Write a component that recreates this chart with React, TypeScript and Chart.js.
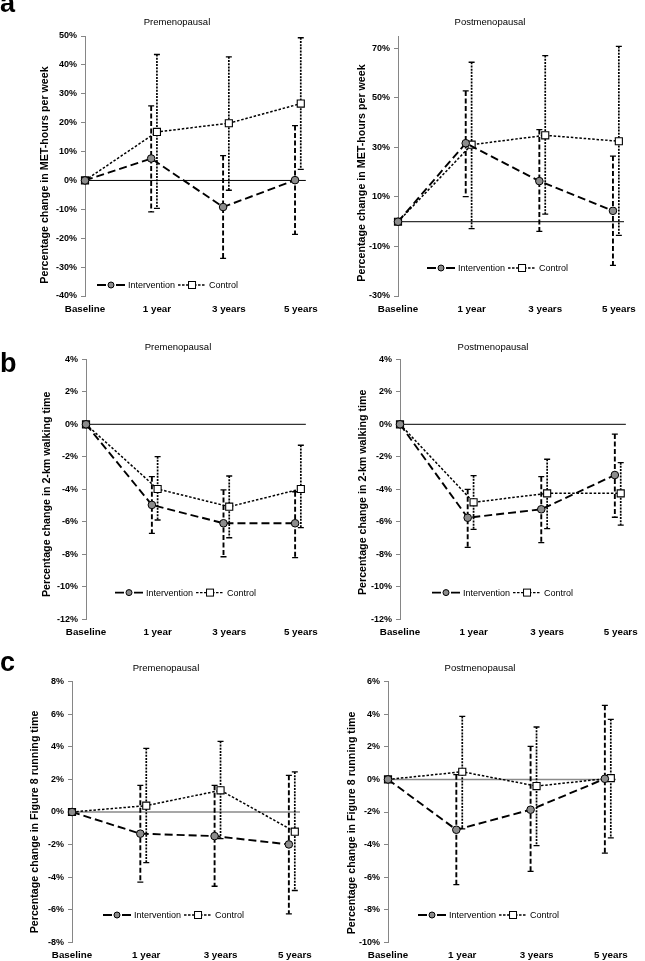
import React, { useEffect, useRef } from 'react';
import { Chart, registerables } from 'chart.js';

Chart.register(...registerables);

// ---------------- DATA ----------------
const CATEGORIES = ['Baseline', '1 year', '3 years', '5 years'];
const SERIES_NAMES = ['Intervention', 'Control'];
const PANEL_LETTERS = ['a', 'b', 'c'];
const PANEL_TITLES = ['Premenopausal', 'Postmenopausal'];
const Y_TITLES = [
  'Percentage change in MET-hours per week',
  'Percentage change in 2-km walking time',
  'Percentage change in Figure 8 running time',
];

// a) MET-hours per week
const A_PRE_TICKS = [-40, -30, -20, -10, 0, 10, 20, 30, 40, 50];
const A_PRE_INT = [0, 7.6, -9.2, 0.1];
const A_PRE_INT_LO = [0, -10.9, -27.0, -18.7];
const A_PRE_INT_HI = [0, 25.8, 8.6, 19.0];
const A_PRE_CTL = [0, 16.8, 19.8, 26.6];
const A_PRE_CTL_LO = [0, -9.7, -3.4, 3.8];
const A_PRE_CTL_HI = [0, 43.6, 42.8, 49.4];

const A_POST_TICKS = [-30, -10, 10, 30, 50, 70];
const A_POST_INT = [0, 31.7, 16.4, 4.4];
const A_POST_INT_LO = [0, 10.1, -3.9, -17.6];
const A_POST_INT_HI = [0, 52.8, 37.2, 26.5];
const A_POST_CTL = [0, 31.1, 34.9, 32.5];
const A_POST_CTL_LO = [0, -2.8, 3.1, -5.5];
const A_POST_CTL_HI = [0, 64.4, 67.1, 70.8];

// b) 2-km walking time
const B_TICKS = [-12, -10, -8, -6, -4, -2, 0, 2, 4];
const B_PRE_INT = [0, -4.96, -6.09, -6.09];
const B_PRE_INT_LO = [0, -6.71, -8.15, -8.21];
const B_PRE_INT_HI = [0, -3.22, -4.04, -4.15];
const B_PRE_CTL = [0, -3.98, -5.07, -3.98];
const B_PRE_CTL_LO = [0, -5.89, -6.98, -6.36];
const B_PRE_CTL_HI = [0, -1.99, -3.18, -1.29];

const B_POST_INT = [0, -5.75, -5.23, -3.12];
const B_POST_INT_LO = [0, -7.57, -7.28, -5.72];
const B_POST_INT_HI = [0, -4.0, -3.22, -0.6];
const B_POST_CTL = [0, -4.8, -4.25, -4.25];
const B_POST_CTL_LO = [0, -6.46, -6.42, -6.2];
const B_POST_CTL_HI = [0, -3.16, -2.15, -2.36];

// c) Figure 8 running time
const C_PRE_TICKS = [-8, -6, -4, -2, 0, 2, 4, 6, 8];
const C_PRE_INT = [0, -1.33, -1.48, -1.99];
const C_PRE_INT_LO = [0, -4.3, -4.56, -6.25];
const C_PRE_INT_HI = [0, 1.64, 1.64, 2.25];
const C_PRE_CTL = [0, 0.39, 1.33, -1.21];
const C_PRE_CTL_LO = [0, -3.11, -1.64, -4.82];
const C_PRE_CTL_HI = [0, 3.91, 4.34, 2.46];

const C_POST_TICKS = [-10, -8, -6, -4, -2, 0, 2, 4, 6];
const C_POST_INT = [0, -3.09, -1.86, 0.04];
const C_POST_INT_LO = [0, -6.46, -5.65, -4.53];
const C_POST_INT_HI = [0, 0.29, 2.03, 4.55];
const C_POST_CTL = [0, 0.47, -0.41, 0.08];
const C_POST_CTL_LO = [0, -3.03, -4.06, -3.59];
const C_POST_CTL_HI = [0, 3.87, 3.22, 3.69];

// ---------------- STYLE / LAYOUT ----------------
const FONT = "'Liberation Sans', Arial, Helvetica, sans-serif";
const X_MAX = 3.07;
const INT_OFFSET = -0.08;
const AXIS_GREY = '#868686';
const Y_TITLE_SIZE = 10.7;

type Rect = { x: number; y: number; w: number; h: number };
type Area = { l: number; r: number; t: number; b: number };
type Panel = {
  canvas: Rect;
  area: Area;
  yMin: number;
  yMax: number;
  yTicks: number[];
  yTitle: string;
  yTitleX: number;
  yTitleShift: number;
  int: number[]; intLo: number[]; intHi: number[];
  ctl: number[]; ctlLo: number[]; ctlHi: number[];
  legend: { dx: number; dy: number };
  zeroColor: string;
  zeroWidth: number;
};

const PANELS: Panel[] = [
  {
    canvas: { x: 0, y: 26, w: 325, h: 300 }, area: { l: 85, r: 310, t: 36, b: 296 },
    yMin: -40, yMax: 50, yTicks: A_PRE_TICKS, yTitle: Y_TITLES[0], yTitleX: 45, yTitleShift: 9,
    int: A_PRE_INT, intLo: A_PRE_INT_LO, intHi: A_PRE_INT_HI,
    ctl: A_PRE_CTL, ctlLo: A_PRE_CTL_LO, ctlHi: A_PRE_CTL_HI,
    legend: { dx: 12, dy: -11 }, zeroColor: '#000', zeroWidth: 1,
  },
  {
    canvas: { x: 325, y: 26, w: 320, h: 300 }, area: { l: 398, r: 624, t: 36, b: 296 },
    yMin: -30, yMax: 75, yTicks: A_POST_TICKS, yTitle: Y_TITLES[0], yTitleX: 362, yTitleShift: 7,
    int: A_POST_INT, intLo: A_POST_INT_LO, intHi: A_POST_INT_HI,
    ctl: A_POST_CTL, ctlLo: A_POST_CTL_LO, ctlHi: A_POST_CTL_HI,
    legend: { dx: 29, dy: -28 }, zeroColor: '#000', zeroWidth: 1,
  },
  {
    canvas: { x: 0, y: 349, w: 325, h: 291 }, area: { l: 86, r: 313, t: 359.3, b: 619.3 },
    yMin: -12, yMax: 4, yTicks: B_TICKS, yTitle: Y_TITLES[1], yTitleX: 47, yTitleShift: 5,
    int: B_PRE_INT, intLo: B_PRE_INT_LO, intHi: B_PRE_INT_HI,
    ctl: B_PRE_CTL, ctlLo: B_PRE_CTL_LO, ctlHi: B_PRE_CTL_HI,
    legend: { dx: 29, dy: -26.7 }, zeroColor: '#000', zeroWidth: 1,
  },
  {
    canvas: { x: 325, y: 349, w: 320, h: 291 }, area: { l: 400, r: 628, t: 359.3, b: 619.3 },
    yMin: -12, yMax: 4, yTicks: B_TICKS, yTitle: Y_TITLES[1], yTitleX: 363, yTitleShift: 3,
    int: B_POST_INT, intLo: B_POST_INT_LO, intHi: B_POST_INT_HI,
    ctl: B_POST_CTL, ctlLo: B_POST_CTL_LO, ctlHi: B_POST_CTL_HI,
    legend: { dx: 32, dy: -26.7 }, zeroColor: '#000', zeroWidth: 1,
  },
  {
    canvas: { x: 0, y: 671, w: 320, h: 290 }, area: { l: 72, r: 300, t: 681.7, b: 942.3 },
    yMin: -8, yMax: 8, yTicks: C_PRE_TICKS, yTitle: Y_TITLES[2], yTitleX: 35, yTitleShift: 10,
    int: C_PRE_INT, intLo: C_PRE_INT_LO, intHi: C_PRE_INT_HI,
    ctl: C_PRE_CTL, ctlLo: C_PRE_CTL_LO, ctlHi: C_PRE_CTL_HI,
    legend: { dx: 31, dy: -27.3 }, zeroColor: '#8a8a8a', zeroWidth: 1.6,
  },
  {
    canvas: { x: 320, y: 671, w: 325, h: 290 }, area: { l: 388, r: 616, t: 681.7, b: 942.3 },
    yMin: -10, yMax: 6, yTicks: C_POST_TICKS, yTitle: Y_TITLES[2], yTitleX: 352, yTitleShift: 11,
    int: C_POST_INT, intLo: C_POST_INT_LO, intHi: C_POST_INT_HI,
    ctl: C_POST_CTL, ctlLo: C_POST_CTL_LO, ctlHi: C_POST_CTL_HI,
    legend: { dx: 30, dy: -27.3 }, zeroColor: '#8a8a8a', zeroWidth: 1.6,
  },
];

const TITLE_POS = [
  { cx: 177, cy: 22 }, { cx: 490, cy: 22 },
  { cx: 178, cy: 347 }, { cx: 493, cy: 347 },
  { cx: 166, cy: 668 }, { cx: 480, cy: 668 },
];
const LETTER_TOP = [-10, 350, 649];

const INT_STYLE = { lineDash: [8, 4], lineWidth: 1.9, errDash: [5, 2.5], errWidth: 1.9, fill: '#8c8c8c' };
const CTL_STYLE = { lineDash: [2.5, 1.8], lineWidth: 1.5, errDash: [2, 1.2], errWidth: 1.7, fill: '#ffffff' };

function makeExtras(p: Panel) {
  return {
    id: 'panelExtras',
    beforeDatasetsDraw(chart: any) {
      const { ctx, chartArea, scales } = chart;
      const xs = scales.x;
      const ys = scales.y;
      // zero reference line
      const y0 = ys.getPixelForValue(0);
      ctx.save();
      ctx.strokeStyle = p.zeroColor;
      ctx.lineWidth = p.zeroWidth;
      ctx.beginPath();
      ctx.moveTo(chartArea.left, y0);
      ctx.lineTo(chartArea.right, y0);
      ctx.stroke();
      ctx.restore();
      // error bars
      const sets = [
        { lo: p.intLo, hi: p.intHi, st: INT_STYLE, ds: 0 },
        { lo: p.ctlLo, hi: p.ctlHi, st: CTL_STYLE, ds: 1 },
      ];
      sets.forEach((s) => {
        const data = chart.data.datasets[s.ds].data as { x: number; y: number }[];
        data.forEach((pt, i) => {
          if (s.lo[i] === s.hi[i]) return;
          const x = xs.getPixelForValue(pt.x);
          const yl = ys.getPixelForValue(s.lo[i]);
          const yh = ys.getPixelForValue(s.hi[i]);
          ctx.save();
          ctx.strokeStyle = '#000';
          ctx.lineWidth = s.st.errWidth;
          ctx.setLineDash(s.st.errDash);
          ctx.beginPath();
          ctx.moveTo(x, yh);
          ctx.lineTo(x, yl);
          ctx.stroke();
          ctx.setLineDash([]);
          ctx.lineWidth = 1.3;
          ctx.beginPath();
          ctx.moveTo(x - 3, yh);
          ctx.lineTo(x + 3, yh);
          ctx.moveTo(x - 3, yl);
          ctx.lineTo(x + 3, yl);
          ctx.stroke();
          ctx.restore();
        });
      });
    },
    afterDraw(chart: any) {
      const { ctx, chartArea } = chart;
      // y-axis title
      ctx.save();
      ctx.font = `bold ${Y_TITLE_SIZE}px ${FONT}`;
      ctx.fillStyle = '#000';
      ctx.textAlign = 'center';
      ctx.textBaseline = 'middle';
      ctx.translate(p.yTitleX - p.canvas.x, (chartArea.top + chartArea.bottom) / 2 + p.yTitleShift);
      ctx.rotate(-Math.PI / 2);
      ctx.fillText(p.yTitle, 0, 0);
      ctx.restore();

      // legend
      const x0 = chartArea.left + p.legend.dx;
      const y = chartArea.bottom + p.legend.dy;
      ctx.save();
      ctx.font = `9px ${FONT}`;
      ctx.textBaseline = 'middle';
      ctx.textAlign = 'left';
      ctx.fillStyle = '#000';
      ctx.strokeStyle = '#000';
      // Intervention
      ctx.lineWidth = INT_STYLE.lineWidth;
      ctx.beginPath();
      ctx.moveTo(x0, y); ctx.lineTo(x0 + 9, y);
      ctx.moveTo(x0 + 19, y); ctx.lineTo(x0 + 28, y);
      ctx.stroke();
      ctx.lineWidth = 1;
      ctx.beginPath();
      ctx.arc(x0 + 14, y, 3, 0, Math.PI * 2);
      ctx.fillStyle = INT_STYLE.fill;
      ctx.fill();
      ctx.stroke();
      ctx.fillStyle = '#000';
      ctx.fillText(SERIES_NAMES[0], x0 + 31, y + 0.5);
      const w = ctx.measureText(SERIES_NAMES[0]).width;
      const x1 = x0 + 31 + w + 3;
      // Control
      ctx.lineWidth = 1.4;
      ctx.setLineDash([2.5, 1.5]);
      ctx.beginPath();
      ctx.moveTo(x1, y); ctx.lineTo(x1 + 28, y);
      ctx.stroke();
      ctx.setLineDash([]);
      ctx.lineWidth = 1;
      ctx.fillStyle = CTL_STYLE.fill;
      ctx.fillRect(x1 + 10.5, y - 3.5, 7, 7);
      ctx.strokeRect(x1 + 10.5, y - 3.5, 7, 7);
      ctx.fillStyle = '#000';
      ctx.fillText(SERIES_NAMES[1], x1 + 31, y + 0.5);
      ctx.restore();
    },
  };
}

function PanelChart({ p }: { p: Panel }) {
  const ref = useRef<HTMLCanvasElement | null>(null);
  useEffect(() => {
    const canvas = ref.current;
    if (!canvas) return;
    const c = p.canvas;
    const a = p.area;
    const padTop = a.t - c.y;
    const padRight = c.x + c.w - a.r;
    const yWidth = a.l - c.x;
    const xHeight = c.y + c.h - a.b;
    const mk = (vals: number[], off: number) =>
      vals.map((v, i) => ({ x: i === 0 ? 0 : i + off, y: v }));
    const chart = new Chart(canvas, {
      type: 'line',
      data: {
        datasets: [
          {
            label: SERIES_NAMES[0],
            data: mk(p.int, INT_OFFSET),
            borderColor: '#000',
            borderWidth: INT_STYLE.lineWidth,
            borderDash: INT_STYLE.lineDash,
            pointStyle: 'circle',
            pointRadius: 3.8,
            pointBackgroundColor: INT_STYLE.fill,
            pointBorderColor: '#000',
            pointBorderWidth: 1,
            fill: false,
            tension: 0,
            clip: false,
          } as any,
          {
            label: SERIES_NAMES[1],
            data: mk(p.ctl, 0),
            borderColor: '#000',
            borderWidth: CTL_STYLE.lineWidth,
            borderDash: CTL_STYLE.lineDash,
            pointStyle: 'rect',
            pointRadius: 5,
            pointBackgroundColor: CTL_STYLE.fill,
            pointBorderColor: '#000',
            pointBorderWidth: 1.1,
            fill: false,
            tension: 0,
            clip: false,
          } as any,
        ],
      },
      options: {
        animation: false,
        responsive: false,
        maintainAspectRatio: false,
        devicePixelRatio: 1,
        layout: { padding: { top: padTop, right: padRight, bottom: 0, left: 0 } },
        plugins: {
          legend: { display: false },
          tooltip: { enabled: false },
          title: { display: false },
        },
        scales: {
          x: {
            type: 'linear',
            min: 0,
            max: X_MAX,
            afterBuildTicks: (axis: any) => {
              axis.ticks = CATEGORIES.map((_, i) => ({ value: i }));
            },
            afterFit: (axis: any) => {
              axis.height = xHeight;
            },
            ticks: {
              autoSkip: false,
              maxRotation: 0,
              minRotation: 0,
              padding: 7,
              color: '#000',
              font: { family: FONT, size: 9.8, weight: 'bold' },
              callback: (v: any) => CATEGORIES[Math.round(Number(v))] ?? '',
            },
            grid: { display: false, drawTicks: false },
            border: { display: false },
          },
          y: {
            type: 'linear',
            min: p.yMin,
            max: p.yMax,
            afterBuildTicks: (axis: any) => {
              axis.ticks = p.yTicks.map((v) => ({ value: v }));
            },
            afterFit: (axis: any) => {
              axis.width = yWidth;
            },
            ticks: {
              padding: 4,
              color: '#000',
              font: { family: FONT, size: 9, weight: 'bold' },
              callback: (v: any) => `${v}%`,
            },
            grid: { drawOnChartArea: false, drawTicks: true, tickLength: 4, color: AXIS_GREY },
            border: { display: true, color: AXIS_GREY, width: 1 },
            title: { display: false },
          },
        },
      } as any,
      plugins: [makeExtras(p)],
    });
    return () => chart.destroy();
  }, [p]);
  return (
    <canvas
      ref={ref}
      width={p.canvas.w}
      height={p.canvas.h}
      style={{ position: 'absolute', left: p.canvas.x, top: p.canvas.y, width: p.canvas.w, height: p.canvas.h }}
    />
  );
}

export default function App() {
  return (
    <div style={{ position: 'absolute', left: 0, top: 0, width: 645, height: 961, overflow: 'hidden', background: '#fff' }}>
      {PANELS.map((p, i) => (
        <PanelChart key={i} p={p} />
      ))}
      {TITLE_POS.map((t, i) => (
        <div
          key={`t${i}`}
          style={{
            position: 'absolute', left: t.cx - 80, width: 160, top: t.cy - 6, height: 12,
            lineHeight: '12px', fontSize: 9.5, fontFamily: FONT, textAlign: 'center', color: '#000',
          }}
        >
          {PANEL_TITLES[i % 2]}
        </div>
      ))}
      {PANEL_LETTERS.map((l, i) => (
        <div
          key={`l${i}`}
          style={{
            position: 'absolute', left: 0, top: LETTER_TOP[i], fontSize: 27, lineHeight: '27px',
            fontWeight: 'bold', fontFamily: FONT, color: '#000',
          }}
        >
          {l}
        </div>
      ))}
    </div>
  );
}
